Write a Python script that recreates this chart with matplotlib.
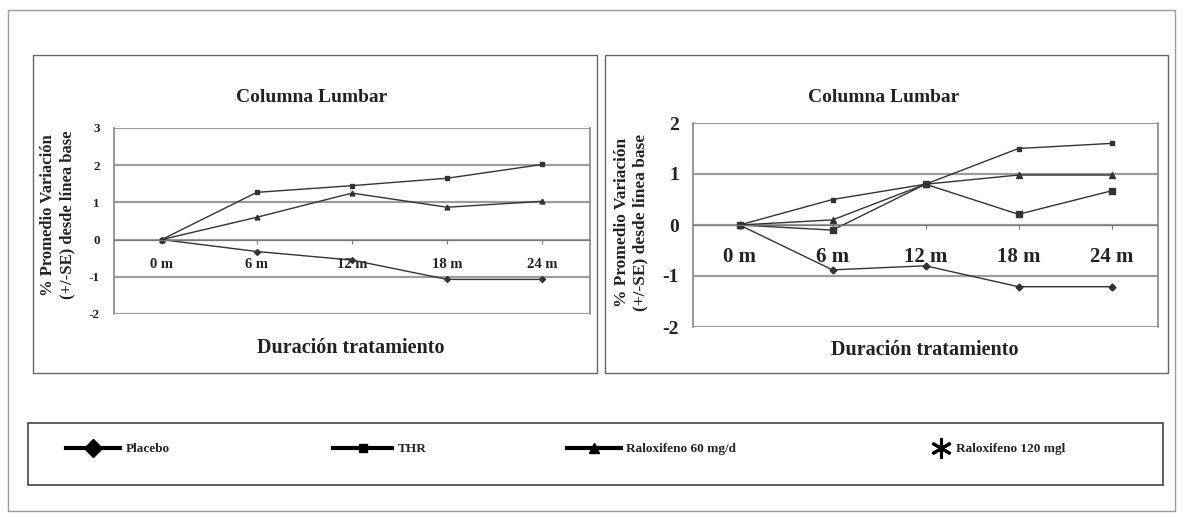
import matplotlib
matplotlib.use("Agg")
import matplotlib.pyplot as plt
from matplotlib.patches import Rectangle
from matplotlib.lines import Line2D

# data (% change from baseline)
months = ["0 m", "6 m", "12 m", "18 m", "24 m"]

left_thr = [0, 1.27, 1.45, 1.65, 2.02]
left_ral60 = [0, 0.60, 1.25, 0.87, 1.03]
left_placebo = [0, -0.32, -0.55, -1.07, -1.07]

right_thr = [0, 0.50, 0.80, 1.50, 1.60]
right_ral60 = [0, 0.10, 0.80, 0.98, 0.98]
right_ral120 = [0, -0.10, 0.80, 0.21, 0.67]
right_placebo = [0, -0.88, -0.80, -1.21, -1.21]

left_yticks = [-2, -1, 0, 1, 2, 3]
right_yticks = [-2, -1, 0, 1, 2]

title = "Columna Lumbar"
ylabel = "% Promedio Variación\n(+/-SE) desde línea base"
xlabel = "Duración tratamiento"
legend_labels = ["Placebo", "THR", "Raloxifeno 60 mg/d", "Raloxifeno 120 mgl"]

W, H = 1183, 516
plt.rcParams["font.family"] = ["Liberation Serif", "DejaVu Serif"]

fig = plt.figure(figsize=(W / 100, H / 100), dpi=100)
fig.patch.set_facecolor("white")


def rect(x0, y0, x1, y1):
    # pixel box (top-left origin) -> figure fraction
    return [x0 / W, 1 - y1 / H, (x1 - x0) / W, (y1 - y0) / H]


def box(x0, y0, x1, y1, color="#555555", lw=1.0):
    r = Rectangle((x0 / W, 1 - y1 / H), (x1 - x0) / W, (y1 - y0) / H,
                  transform=fig.transFigure, fill=False, ec=color, lw=lw)
    fig.add_artist(r)


def ftext(px, py, s, **kw):
    fig.text(px / W, 1 - py / H, s, ha="center", va="center", fontweight="bold",
             color="#222222", **kw)


# outer frame, panel frames, legend frame
box(8, 10, 1175, 511, color="#9a9a9a", lw=1.0)
box(33, 55, 597, 373, color="#666666", lw=1.0)
box(605, 55, 1168, 373, color="#666666", lw=1.0)
box(28, 423, 1163, 485, color="#444444", lw=1.2)

line_kw = dict(color="#333333", lw=1.0)
mk = {"Placebo": "D", "THR": "s", "Raloxifeno 60 mg/d": "^", "Raloxifeno 120 mgl": "s"}


def setup(ax, yticks, xtick_fs, ytick_fs, tick_pad):
    # move the x axis to y=0 first: set_position resets the tick labels
    ax.spines["bottom"].set_position(("data", 0))
    ax.spines["bottom"].set_color("#777777")
    ax.spines["top"].set_visible(False)
    for s in ["left", "right"]:
        ax.spines[s].set_color("#888888")
        ax.spines[s].set_linewidth(1.2)
    x = list(range(len(months)))
    ax.set_xlim(-0.5, len(months) - 0.5)
    ax.set_ylim(yticks[0], yticks[-1])
    ax.set_yticks(yticks)
    ax.set_yticklabels([str(t) for t in yticks], fontsize=ytick_fs, fontweight="bold",
                       color="#222222")
    ax.set_xticks(x)
    ax.set_xticklabels(months, fontsize=xtick_fs, fontweight="bold", color="#222222")
    for t in yticks:
        ax.axhline(t, color="#9c9c9c", lw=1.6, zorder=0)
    ax.tick_params(axis="x", length=3, pad=tick_pad, color="#777777")
    ax.tick_params(axis="y", length=0, pad=10)
    return x


# left panel
axL = fig.add_axes(rect(114, 128, 590, 314))
x = setup(axL, left_yticks, 10.5, 9.5, 10)
axL.plot(x, left_thr, marker=mk["THR"], ms=3, **line_kw)
axL.plot(x, left_ral60, marker=mk["Raloxifeno 60 mg/d"], ms=3.5, **line_kw)
axL.plot(x, left_placebo, marker=mk["Placebo"], ms=3, **line_kw)
ftext(312, 97, title, fontsize=14)
ftext(351, 348, xlabel, fontsize=14.5)
ftext(58, 215, ylabel, rotation=90, fontsize=12, linespacing=1.25)

# right panel
axR = fig.add_axes(rect(693, 123, 1158, 327))
x = setup(axR, right_yticks, 15, 14, 13)
axR.plot(x, right_thr, marker=mk["THR"], ms=3, **line_kw)
axR.plot(x, right_ral60, marker=mk["Raloxifeno 60 mg/d"], ms=4, **line_kw)
axR.plot(x, right_ral120, marker=mk["Raloxifeno 120 mgl"], ms=4.5, **line_kw)
axR.plot(x, right_placebo, marker=mk["Placebo"], ms=3.5, **line_kw)
ftext(884, 98, title, fontsize=14)
ftext(925, 350, xlabel, fontsize=14.5)
ftext(631, 222, ylabel, rotation=90, fontsize=12.5, linespacing=1.25)

# legend: one single-entry legend per slot, as in the original row layout
handles = [
    Line2D([], [], color="black", lw=3, marker="D", ms=9),
    Line2D([], [], color="black", lw=3, marker="s", ms=6),
    Line2D([], [], color="black", lw=3, marker="^", ms=7),
    Line2D([], [], color="black", lw=0, marker=(6, 2, 0), ms=15, mew=2.2),
]
slots = [(66, 4.1), (333, 4.5), (567, 4.1), (930, 1.6)]
for h, lab, (px, hl) in zip(handles, legend_labels, slots):
    leg = fig.legend([h], [lab], loc="center left", bbox_to_anchor=(px / W, 1 - 449 / H),
                     frameon=False, borderpad=0, borderaxespad=0,
                     prop={"size": 9.5, "weight": "bold"},
                     handlelength=hl, handletextpad=0.4)
    for t in leg.get_texts():
        t.set_color("#222222")

fig.savefig("out.png", dpi=100)
